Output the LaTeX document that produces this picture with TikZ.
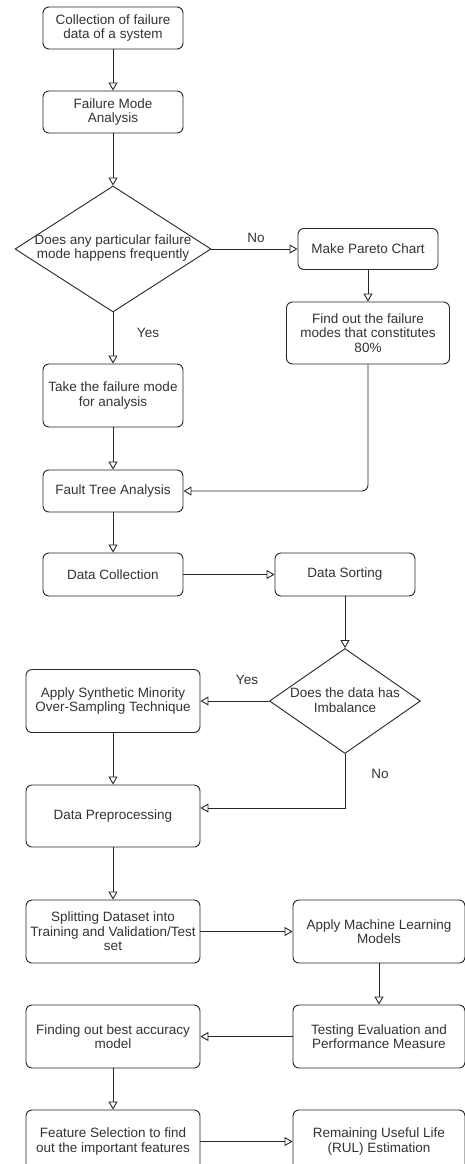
\documentclass[tikz,border=0pt]{standalone}
\usepackage{fontspec}
\setmainfont{Liberation Sans}
\usetikzlibrary{arrows.meta,shapes.geometric}
\definecolor{txt}{HTML}{333333}
\definecolor{ln}{HTML}{262626}
\begin{document}
\begin{tikzpicture}[x=1pt,y=-1pt,
  box/.style={draw=ln, line width=0.9pt, rounded corners=6pt, align=center, text=txt,
    inner sep=0pt, font=\fontsize{13.5}{14.5}\selectfont},
  dia/.style={draw=ln, line width=0.9pt, diamond, inner sep=0pt},
  lbl/.style={text=txt, align=center, inner sep=0pt, font=\fontsize{13.5}{14.5}\selectfont},
  arr/.style={-{Triangle[open,length=8pt,width=9pt]}, line width=0.9pt, draw=ln}]
\useasboundingbox (0,0) rectangle (465,1164);
\clip (0,0) rectangle (465,1164);
\fill[white] (0,0) rectangle (465,1164);
% nodes
\node[box, minimum width=140pt, minimum height=42pt] (b1) at (113,28) {Collection of failure\\data of a system};
\node[box, minimum width=140pt, minimum height=42pt] (b2) at (113,112) {Failure Mode\\Analysis};
\node[dia, minimum width=196pt, minimum height=126pt] (d1) at (113,249) {};
\node[lbl] (d1t) at (113,248) {Does any particular failure\\mode happens frequently};
\node[box, minimum width=140pt, minimum height=41pt] (pareto) at (368,249) {Make Pareto Chart};
\node[box, minimum width=163pt, minimum height=62pt] (find) at (368,333) {Find out the failure\\modes that constitutes\\80\%};
\node[box, minimum width=140pt, minimum height=63pt] (take) at (113,395.5) {Take the failure mode\\for analysis};
\node[box, minimum width=140pt, minimum height=42pt] (fault) at (113,491) {Fault Tree Analysis};
\node[box, minimum width=140pt, minimum height=43pt] (dcoll) at (113,574.5) {Data Collection};
\node[box, minimum width=140pt, minimum height=43pt] (dsort) at (345,574.5) {Data Sorting};
\node[dia, minimum width=151pt, minimum height=105pt] (d2) at (345,701) {};
\node[lbl] (d2t) at (345,700) {Does the data has\\Imbalance};
\node[box, minimum width=174pt, minimum height=63pt] (smote) at (113,701) {Apply Synthetic Minority\\Over-Sampling Technique};
\node[box, minimum width=174pt, minimum height=62pt] (pre) at (113,816) {Data Preprocessing};
\node[box, minimum width=174pt, minimum height=63pt] (split) at (113,931.5) {Splitting Dataset into\\Training and Validation/Test\\set};
\node[box, minimum width=172pt, minimum height=63pt] (ml) at (379,931.5) {Apply Machine Learning\\Models};
\node[box, minimum width=172pt, minimum height=63pt] (test) at (379,1036.5) {Testing Evaluation and\\Performance Measure};
\node[box, minimum width=174pt, minimum height=63pt] (best) at (113,1036.5) {Finding out best accuracy\\model};
\node[box, minimum width=174pt, minimum height=63pt] (fs) at (113,1141.5) {Feature Selection to find\\out the important features};
\node[box, minimum width=172pt, minimum height=63pt] (rul) at (379,1141.5) {Remaining Useful Life\\(RUL) Estimation};
% labels
\node[lbl] (no1) at (256,238) {No};
\node[lbl] (yes1) at (148,333) {Yes};
\node[lbl] (yes2) at (247,680) {Yes};
\node[lbl] (no2) at (380,774) {No};
\coordinate (preIn) at ([yshift=8pt]pre.east);
% connectors
\draw[arr] (b1) -- (b2);
\draw[arr] (b2) -- (d1);
\draw[arr] (d1.east) -- (pareto.west);
\draw[arr] (d1.south) -- (take.north);
\draw[arr] (pareto) -- (find);
\draw[arr] (take) -- (fault);
\draw[arr, rounded corners=6pt] (find.south) |- (fault.east);
\draw[arr] (fault) -- (dcoll);
\draw[arr] (dcoll) -- (dsort);
\draw[arr] (dsort.south) -- (d2.north);
\draw[arr] (d2.west) -- (smote.east);
\draw[arr] (smote) -- (pre);
\draw[arr] (d2.south) |- (preIn);
\draw[arr] (pre) -- (split);
\draw[arr] (split) -- (ml);
\draw[arr] (ml) -- (test);
\draw[arr] (test) -- (best);
\draw[arr] (best) -- (fs);
\draw[arr] (fs) -- (rul);
\end{tikzpicture}
\end{document}
